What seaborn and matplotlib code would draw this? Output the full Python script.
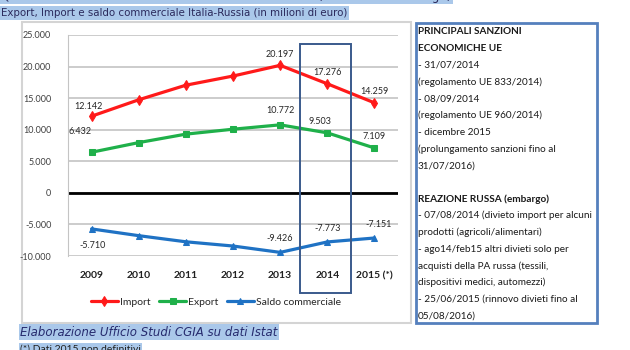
import matplotlib
matplotlib.use("Agg")
import matplotlib.pyplot as plt
from matplotlib.patches import Rectangle
import pandas as pd
import seaborn as sns

### Dati (milioni di euro)
anni = ["2009", "2010", "2011", "2012", "2013", "2014", "2015 (*)"]
importazioni = [12142, 14740, 17050, 18500, 20197, 17276, 14259]
esportazioni = [6432, 7960, 9300, 10080, 10772, 9503, 7109]
saldo = [-5710, -6780, -7750, -8420, -9426, -7773, -7151]
serie = ["Import", "Export", "Saldo commerciale"]
y_ticks = [-10000, -5000, 0, 5000, 10000, 15000, 20000, 25000]

sanzioni_ue = ["- 31/07/2014", "(regolamento UE 833/2014)", "- 08/09/2014",
               "(regolamento UE 960/2014)", "- dicembre 2015",
               "(prolungamento sanzioni fino al", "31/07/2016)"]
reazione_russa = ["- 07/08/2014 (divieto import per alcuni",
                  "prodotti (agricoli/alimentari)",
                  "- ago14/feb15 altri divieti solo per",
                  "acquisti della PA russa (tessili,",
                  "dispositivi medici, automezzi)",
                  "- 25/06/2015 (rinnovo divieti fino al",
                  "05/08/2016)"]

### Stile
sns.set_style("white")
NARROW = ["Liberation Sans Narrow", "Lato", "DejaVu Sans"]
plt.rcParams["font.family"] = NARROW
colori = {"Import": "#ff1a1a", "Export": "#1fb04a", "Saldo commerciale": "#1f72c4"}
marcatori = {"Import": "d", "Export": "s", "Saldo commerciale": "^"}
EVIDENZA = "#aac8ea"
W, H = 630, 350

def fx(px):
    return px / W

def fy(py):
    return 1 - py / H

def migliaia(v):
    return f"{v:,}".replace(",", ".")

df = pd.DataFrame({
    "Anno": anni * 3,
    "Valore": importazioni + esportazioni + saldo,
    "Serie": [s for s in serie for _ in anni],
})

fig = plt.figure(figsize=(6.3, 3.5), dpi=100)
fig.patch.set_facecolor("white")

# cornice grafico e box testo
fig.add_artist(Rectangle((fx(22), fy(323)), fx(411 - 22), (323 - 22) / H,
                         transform=fig.transFigure, facecolor="white",
                         edgecolor="#d4d4d4", lw=1.5, zorder=0))
fig.add_artist(Rectangle((fx(416), fy(323)), fx(597 - 416), (323 - 23) / H,
                         transform=fig.transFigure, facecolor="white",
                         edgecolor="#5580bd", lw=2.0, zorder=0))

ax = fig.add_axes([fx(68), fy(256), fx(398 - 68), (256 - 35) / H])
ax.set_facecolor("none")

sns.lineplot(data=df, x="Anno", y="Valore", hue="Serie", style="Serie",
             palette=colori, markers=marcatori, dashes=False, sort=False,
             lw=2.3, markersize=5, ax=ax, zorder=3)
for linea in ax.lines:
    linea.set_markeredgecolor(linea.get_color())

ax.axhline(0, color="black", lw=2, zorder=2)
ax.set_ylim(-10000, 25000)
ax.set_xlim(-0.5, 6.5)
ax.set_yticks(y_ticks)
ax.set_yticklabels([migliaia(t) for t in y_ticks], fontsize=6.5, color="#404040")
ax.tick_params(axis="y", length=0, pad=12)
ax.tick_params(axis="x", length=0, pad=11)
for lab in ax.get_xticklabels():
    lab.set_fontweight("bold")
    lab.set_fontsize(7.5)
    lab.set_color("#202020")
ax.set_xlabel("")
ax.set_ylabel("")
ax.grid(axis="y", color="#c4c4c4", lw=1.2)
ax.grid(axis="x", visible=False)
for lato in ["top", "right", "bottom"]:
    ax.spines[lato].set_visible(False)
ax.spines["left"].set_color("#c4c4c4")

# etichette dati
etichette = {
    "Import": (importazioni, {0: (-2, 7), 4: (0, 8), 5: (0, 8), 6: (0, 8)}),
    "Export": (esportazioni, {0: (-8, 15), 4: (0, 10), 5: (-5, 8), 6: (0, 8)}),
    "Saldo commerciale": (saldo, {0: (1, -12), 4: (0, 10), 5: (0, 10), 6: (3, 10)}),
}
for nome, (valori, posizioni) in etichette.items():
    for i, (dx, dy) in posizioni.items():
        ax.annotate(migliaia(valori[i]), (i, valori[i]), xytext=(dx, dy),
                    textcoords="offset points", ha="center", va="center",
                    fontsize=6.5, color="#262626")

# riquadro 2014
ax.add_patch(Rectangle((4.43, -15900), 1.08, 23600 + 15900, fill=False,
                       edgecolor="#3a5a8c", lw=1.4, clip_on=False, zorder=4))

handles, labels = ax.get_legend_handles_labels()
ax.get_legend().remove()
leg = fig.legend(handles, labels, loc="center", bbox_to_anchor=(fx(216), fy(302)),
                 bbox_transform=fig.transFigure, ncol=3, frameon=False,
                 fontsize=7.5, handlelength=2.6, columnspacing=0.8, handletextpad=0.2)

# titoli
fig.text(fx(1), fy(-4), "Quadro dei commerci con la Russia: il trend dal 2009 (sanzioni ed embargo)",
         fontsize=8.5, color="#2b2a5c", va="center", family=["DejaVu Sans"],
         bbox=dict(boxstyle="square,pad=0.15", fc=EVIDENZA, ec="none"))
fig.text(fx(1), fy(13), "Export, Import e saldo commerciale Italia-Russia (in milioni di euro)",
         fontsize=7.4, color="#2b2a5c", va="center", family=["DejaVu Sans"],
         bbox=dict(boxstyle="square,pad=0.2", fc=EVIDENZA, ec="none"))
fig.text(fx(20), fy(332), "Elaborazione Ufficio Studi CGIA su dati Istat",
         fontsize=8.5, color="#262b6e", va="center", style="italic",
         family=["DejaVu Sans"],
         bbox=dict(boxstyle="square,pad=0.1", fc=EVIDENZA, ec="none"))
fig.text(fx(20), fy(349), "(*) Dati 2015 non definitivi",
         fontsize=7.5, color="#202020", va="center",
         bbox=dict(boxstyle="square,pad=0.1", fc=EVIDENZA, ec="none"))

# testo box sanzioni
riga = 16.7
y0 = 32
fig.text(fx(418), fy(y0), "PRINCIPALI SANZIONI", fontsize=7.2, fontweight="bold",
         color="#1a1a1a", va="center")
fig.text(fx(418), fy(y0 + riga), "ECONOMICHE UE", fontsize=7.2, fontweight="bold",
         color="#1a1a1a", va="center")
for k, t in enumerate(sanzioni_ue):
    fig.text(fx(418), fy(y0 + riga * (k + 2)), t, fontsize=7.2, color="#1a1a1a", va="center")
y1 = 199
fig.text(fx(418), fy(y1), "REAZIONE RUSSA (embargo)", fontsize=7.2, fontweight="bold",
         color="#1a1a1a", va="center")
for k, t in enumerate(reazione_russa):
    fig.text(fx(418), fy(y1 + riga * (k + 1)), t, fontsize=7.2, color="#1a1a1a", va="center")

plt.savefig("out.png", dpi=100)
